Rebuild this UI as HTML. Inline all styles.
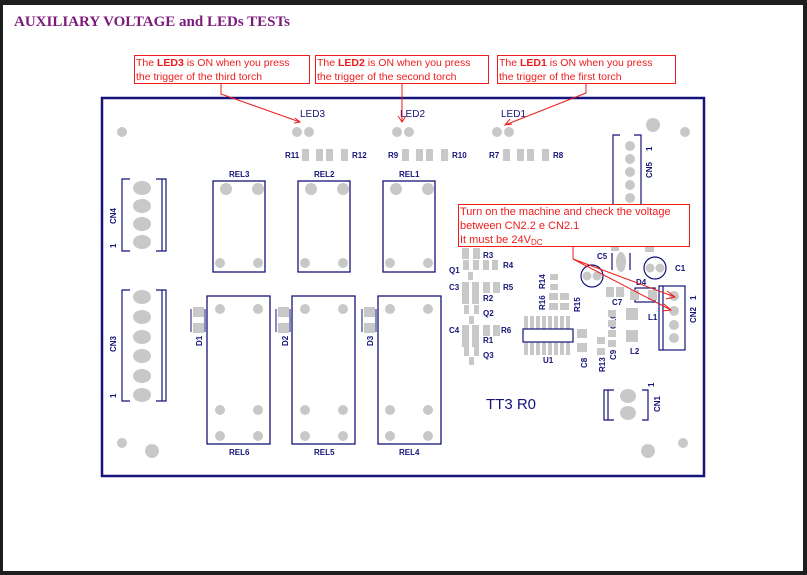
<!DOCTYPE html>
<html><head><meta charset="utf-8"><style>
html,body{margin:0;padding:0;background:#1e1e1e;}
#p{position:absolute;left:3px;top:5px;width:800px;height:566px;background:#fff;}
svg{position:absolute;left:0;top:0;}
</style></head><body><div id="p"></div>
<svg width="807" height="575" viewBox="0 0 807 575" xmlns="http://www.w3.org/2000/svg" font-family="Liberation Sans, sans-serif">
<text x="14" y="26" font-family="Liberation Serif, serif" font-weight="bold" font-size="15" fill="#7b1a7b">AUXILIARY VOLTAGE and LEDs  TESTs</text>

<!-- board -->
<rect x="102" y="98" width="602" height="378" fill="none" stroke="#14147a" stroke-width="2.5"/>

<g fill="#c8c8c8">
<circle cx="122" cy="132" r="5"/><circle cx="653" cy="125" r="7"/><circle cx="685" cy="132" r="5"/>
<circle cx="122" cy="443" r="5"/><circle cx="152" cy="451" r="7"/><circle cx="648" cy="451" r="7"/><circle cx="683" cy="443" r="5"/>
<!-- LEDs -->
<circle cx="297" cy="132" r="5"/><circle cx="309" cy="132" r="5"/>
<circle cx="397" cy="132" r="5"/><circle cx="409" cy="132" r="5"/>
<circle cx="497" cy="132" r="5"/><circle cx="509" cy="132" r="5"/>
<!-- resistors -->
<rect x="302" y="149" width="7" height="12"/><rect x="316" y="149" width="7" height="12"/><rect x="326" y="149" width="7" height="12"/><rect x="341" y="149" width="7" height="12"/>
<rect x="402" y="149" width="7" height="12"/><rect x="416" y="149" width="7" height="12"/><rect x="426" y="149" width="7" height="12"/><rect x="441" y="149" width="7" height="12"/>
<rect x="503" y="149" width="7" height="12"/><rect x="517" y="149" width="7" height="12"/><rect x="527" y="149" width="7" height="12"/><rect x="542" y="149" width="7" height="12"/>
</g>

<g fill="#14147a" font-size="8" font-weight="bold">
<text x="285" y="158">R11</text><text x="352" y="158">R12</text>
<text x="388" y="158">R9</text><text x="452" y="158">R10</text>
<text x="489" y="158">R7</text><text x="553" y="158">R8</text>
<text x="229" y="177">REL3</text><text x="314" y="177">REL2</text><text x="399" y="177">REL1</text>
<text x="229" y="455">REL6</text><text x="314" y="455">REL5</text><text x="399" y="455">REL4</text>
</g>
<g fill="#14147a" font-size="10">
<text x="300" y="117">LED3</text><text x="400" y="117">LED2</text><text x="501" y="117">LED1</text>
</g>

<!-- upper relays -->
<g fill="none" stroke="#14147a" stroke-width="1.3">
<rect x="213" y="181" width="52" height="91"/><rect x="298" y="181" width="52" height="91"/><rect x="383" y="181" width="52" height="91"/>
<rect x="207" y="296" width="63" height="148"/><rect x="292" y="296" width="63" height="148"/><rect x="378" y="296" width="63" height="148"/>
</g>
<g fill="#c8c8c8">
<circle cx="226" cy="189" r="6"/><circle cx="258" cy="189" r="6"/><circle cx="220" cy="263" r="5"/><circle cx="258" cy="263" r="5"/>
<circle cx="311" cy="189" r="6"/><circle cx="343" cy="189" r="6"/><circle cx="305" cy="263" r="5"/><circle cx="343" cy="263" r="5"/>
<circle cx="396" cy="189" r="6"/><circle cx="428" cy="189" r="6"/><circle cx="390" cy="263" r="5"/><circle cx="428" cy="263" r="5"/>
<circle cx="220" cy="309" r="5"/><circle cx="258" cy="309" r="5"/><circle cx="220" cy="410" r="5"/><circle cx="258" cy="410" r="5"/><circle cx="220" cy="436" r="5"/><circle cx="258" cy="436" r="5"/>
<circle cx="305" cy="309" r="5"/><circle cx="343" cy="309" r="5"/><circle cx="305" cy="410" r="5"/><circle cx="343" cy="410" r="5"/><circle cx="305" cy="436" r="5"/><circle cx="343" cy="436" r="5"/>
<circle cx="390" cy="309" r="5"/><circle cx="428" cy="309" r="5"/><circle cx="390" cy="410" r="5"/><circle cx="428" cy="410" r="5"/><circle cx="390" cy="436" r="5"/><circle cx="428" cy="436" r="5"/>
</g>

<!-- diodes -->
<g>
<rect x="193" y="307" width="11" height="10" fill="#c8c8c8"/><rect x="193" y="323" width="11" height="10" fill="#c8c8c8"/>
<rect x="278" y="307" width="11" height="10" fill="#c8c8c8"/><rect x="278" y="323" width="11" height="10" fill="#c8c8c8"/>
<rect x="364" y="307" width="11" height="10" fill="#c8c8c8"/><rect x="364" y="323" width="11" height="10" fill="#c8c8c8"/>
<path d="M191 309V332M205 309V332M276 309V332M290 309V332M362 309V332M376 309V332" stroke="#14147a" stroke-width="1"/>
</g>
<g fill="#14147a" font-size="8" font-weight="bold">
<text transform="translate(202,346) rotate(-90)">D1</text>
<text transform="translate(288,346) rotate(-90)">D2</text>
<text transform="translate(373,346) rotate(-90)">D3</text>
<text transform="translate(116,224) rotate(-90)">CN4</text>
<text transform="translate(116,248) rotate(-90)">1</text>
<text transform="translate(116,352) rotate(-90)">CN3</text>
<text transform="translate(116,398) rotate(-90)">1</text>
<text transform="translate(652,178) rotate(-90)">CN5</text>
<text transform="translate(652,151) rotate(-90)">1</text>
<text transform="translate(696,323) rotate(-90)">CN2</text>
<text transform="translate(696,300) rotate(-90)">1</text>
<text transform="translate(660,412) rotate(-90)">CN1</text>
<text transform="translate(654,387) rotate(-90)">1</text>
<text transform="translate(545,289) rotate(-90)">R14</text>
<text transform="translate(545,310) rotate(-90)">R16</text>
<text transform="translate(580,312) rotate(-90)">R15</text>
<text transform="translate(587,368) rotate(-90)">C8</text>
<text transform="translate(605,372) rotate(-90)">R13</text>
<text transform="translate(616,329) rotate(-90)">C10</text>
<text transform="translate(616,360) rotate(-90)">C9</text>
<text x="449" y="273">Q1</text><text x="449" y="290">C3</text><text x="449" y="333">C4</text>
<text x="483" y="258">R3</text><text x="503" y="268">R4</text><text x="503" y="290">R5</text>
<text x="483" y="301">R2</text><text x="483" y="316">Q2</text><text x="501" y="333">R6</text>
<text x="483" y="343">R1</text><text x="483" y="358">Q3</text>
<text x="543" y="363">U1</text><text x="648" y="320">L1</text><text x="630" y="354">L2</text>
<text x="597" y="259">C5</text><text x="675" y="271">C1</text><text x="636" y="285">D4</text><text x="612" y="305">C7</text>
</g>

<!-- connectors CN4, CN3 -->
<g fill="none" stroke="#14147a" stroke-width="1.2">
<path d="M130 179H122V251H130M156 179H166V251H156M162 179V251"/>
<path d="M130 290H122V401H130M156 290H166V401H156M162 290V401"/>
<path d="M620 135H613V205M634 135H641V205"/>
<rect x="659" y="286" width="26" height="64"/><path d="M663 286V350"/>
<path d="M614 390H604V420H614M642 390H648V420H642M608 390V420"/>
<circle cx="592" cy="276" r="11"/><circle cx="655" cy="268" r="11"/>
<path d="M612 253V270M630 253V270"/>
<rect x="635" y="288" width="20" height="14"/>
</g>
<g fill="#c8c8c8">
<ellipse cx="142" cy="188" rx="9" ry="7"/><ellipse cx="142" cy="206" rx="9" ry="7"/><ellipse cx="142" cy="224" rx="9" ry="7"/><ellipse cx="142" cy="242" rx="9" ry="7"/>
<ellipse cx="142" cy="297" rx="9" ry="7"/><ellipse cx="142" cy="317" rx="9" ry="7"/><ellipse cx="142" cy="337" rx="9" ry="7"/><ellipse cx="142" cy="356" rx="9" ry="7"/><ellipse cx="142" cy="376" rx="9" ry="7"/><ellipse cx="142" cy="395" rx="9" ry="7"/>
<circle cx="630" cy="146" r="5"/><circle cx="630" cy="159" r="5"/><circle cx="630" cy="172" r="5"/><circle cx="630" cy="185" r="5"/><circle cx="630" cy="198" r="5"/>
<circle cx="674" cy="296" r="5"/><circle cx="674" cy="311" r="5"/><circle cx="674" cy="325" r="5"/><circle cx="674" cy="338" r="5"/>
<ellipse cx="628" cy="396" rx="8" ry="7"/><ellipse cx="628" cy="413" rx="8" ry="7"/>
<circle cx="587" cy="276" r="4.5"/><circle cx="597" cy="276" r="4.5"/>
<circle cx="650" cy="268" r="4.5"/><circle cx="660" cy="268" r="4.5"/>
<ellipse cx="621" cy="262" rx="5" ry="10"/>
<!-- middle small pads -->
<rect x="462" y="248" width="7" height="11"/><rect x="473" y="248" width="7" height="11"/>
<rect x="463" y="260" width="6" height="10"/><rect x="473" y="260" width="6" height="10"/><rect x="483" y="260" width="6" height="10"/><rect x="492" y="260" width="6" height="10"/>
<rect x="468" y="272" width="5" height="8"/>
<rect x="462" y="282" width="7" height="11"/><rect x="472" y="282" width="7" height="11"/><rect x="483" y="282" width="7" height="11"/><rect x="493" y="282" width="7" height="11"/>
<rect x="462" y="293" width="7" height="11"/><rect x="472" y="293" width="7" height="11"/>
<rect x="464" y="305" width="5" height="9"/><rect x="474" y="305" width="5" height="9"/><rect x="469" y="316" width="5" height="8"/>
<rect x="462" y="325" width="7" height="11"/><rect x="472" y="325" width="7" height="11"/><rect x="483" y="325" width="7" height="11"/><rect x="493" y="325" width="7" height="11"/>
<rect x="462" y="336" width="7" height="11"/><rect x="472" y="336" width="7" height="11"/>
<rect x="464" y="347" width="5" height="9"/><rect x="474" y="347" width="5" height="9"/><rect x="469" y="357" width="5" height="8"/>
<rect x="550" y="274" width="8" height="6"/><rect x="550" y="284" width="8" height="6"/>
<rect x="549" y="293" width="9" height="7"/><rect x="560" y="293" width="9" height="7"/><rect x="549" y="303" width="9" height="7"/><rect x="560" y="303" width="9" height="7"/>
<rect x="577" y="329" width="10" height="9"/><rect x="577" y="343" width="10" height="9"/>
<rect x="597" y="337" width="8" height="7"/><rect x="597" y="348" width="8" height="7"/>
<rect x="608" y="310" width="8" height="7"/><rect x="608" y="320" width="8" height="7"/>
<rect x="608" y="330" width="8" height="7"/><rect x="608" y="340" width="8" height="7"/>
<rect x="626" y="308" width="12" height="12"/><rect x="626" y="330" width="12" height="12"/>
<rect x="630" y="290" width="9" height="10"/><rect x="648" y="290" width="9" height="10"/>
<rect x="606" y="287" width="8" height="10"/><rect x="616" y="287" width="8" height="10"/>
<rect x="611" y="246" width="8" height="5"/><rect x="645" y="246" width="9" height="6"/>
<!-- U1 pins -->
<g>
<rect x="524" y="316" width="4" height="13"/><rect x="530" y="316" width="4" height="13"/><rect x="536" y="316" width="4" height="13"/><rect x="542" y="316" width="4" height="13"/><rect x="548" y="316" width="4" height="13"/><rect x="554" y="316" width="4" height="13"/><rect x="560" y="316" width="4" height="13"/><rect x="566" y="316" width="4" height="13"/>
<rect x="524" y="342" width="4" height="13"/><rect x="530" y="342" width="4" height="13"/><rect x="536" y="342" width="4" height="13"/><rect x="542" y="342" width="4" height="13"/><rect x="548" y="342" width="4" height="13"/><rect x="554" y="342" width="4" height="13"/><rect x="560" y="342" width="4" height="13"/><rect x="566" y="342" width="4" height="13"/>
</g>
</g>
<rect x="523" y="329" width="50" height="13" fill="#fff" stroke="#14147a" stroke-width="1.2"/>
<text x="486" y="409" font-size="15" fill="#14147a">TT3  R0</text>

<!-- callouts -->
<g fill="#fff" stroke="#ee1c1c" stroke-width="1">
<rect x="134.5" y="55.5" width="175" height="28"/>
<rect x="315.5" y="55.5" width="173" height="28"/>
<rect x="497.5" y="55.5" width="178" height="28"/>
<rect x="458.5" y="204.5" width="231" height="42"/>
</g>
<g fill="none" stroke="#ee1c1c" stroke-width="1">
<path d="M221 83V94L300 122M295 118L300 122L294 123"/>
<path d="M402 83V122M398 116L402 122L406 116"/>
<path d="M586 83V93L505 125M510 119L505 125L512 124"/>
<path d="M573 247V259L675 297M573 259L671 310M667 291L675 297L666 299M664 304L671 310L662 311"/>
</g>
<g fill="#ee1c1c" font-size="10.5">
<text x="136" y="66">The <tspan font-weight="bold">LED3</tspan> is ON when you press</text>
<text x="136" y="80">the trigger of the third torch</text>
<text x="317" y="66">The <tspan font-weight="bold">LED2</tspan> is ON when you press</text>
<text x="317" y="80">the trigger of the second torch</text>
<text x="499" y="66">The <tspan font-weight="bold">LED1</tspan> is ON when you press</text>
<text x="499" y="80">the trigger of the first torch</text>
<text x="460" y="215" font-size="11">Turn on the machine and check the voltage</text>
<text x="460" y="229" font-size="11">between CN2.2 e CN2.1</text>
<text x="460" y="243" font-size="11">It must be 24V<tspan font-size="8" dy="2">DC</tspan></text>
</g>
</svg>
</body></html>
